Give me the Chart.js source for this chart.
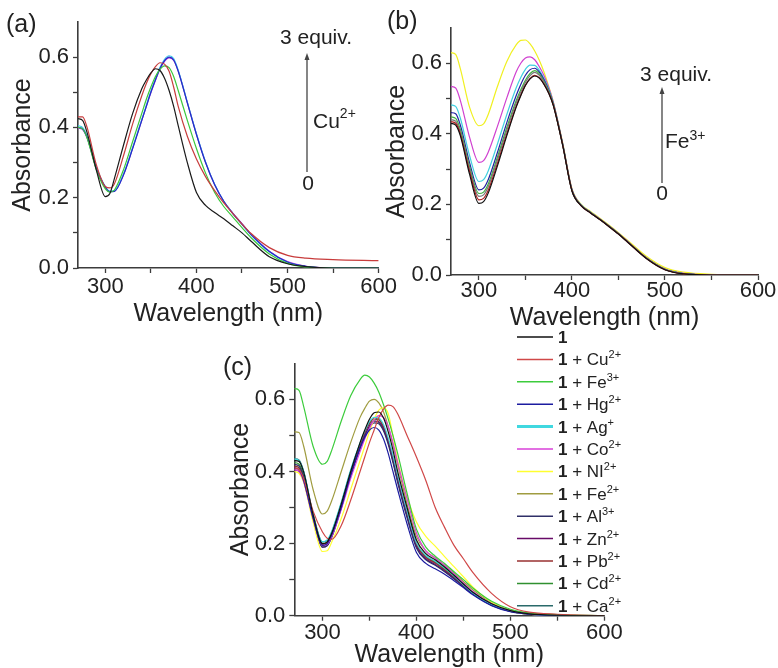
<!DOCTYPE html>
<html>
<head>
<meta charset="utf-8">
<script src="https://cdn.jsdelivr.net/npm/chart.js@4.4.1/dist/chart.umd.min.js"></script>
<style>
  body { margin: 0; background: #fff; }
  #wrap { position: relative; width: 778px; height: 668px; overflow: hidden; }
  canvas { position: absolute; }
</style>
</head>
<body>
<div id="wrap">
  <canvas id="chartA" width="400" height="330" style="left:0;top:0"></canvas>
  <canvas id="chartB" width="398" height="340" style="left:380px;top:0"></canvas>
  <canvas id="chartC" width="430" height="348" style="left:200px;top:320px"></canvas>
</div>
<script>
// wavelength grid shared by every spectrum (nm)
const wavelengths = [270, 275, 280, 290, 300, 305, 310, 320, 330, 340, 345, 350, 355, 360, 365, 370, 375, 380, 390, 400, 410, 420, 430, 440, 450, 460, 480, 500, 520, 550, 600];

const xTicks = [300, 350, 400, 450, 500, 550, 600];
const xLabels = ['300', '', '400', '', '500', '', '600'];
const yTicks = [0, 0.1, 0.2, 0.3, 0.4, 0.5, 0.6];
const yLabels = ['0.0', '', '0.2', '', '0.4', '', '0.6'];

// (a) titration with Cu2+ (0 -> 3 equiv.)
const cuColors = ['#1a1a1a', '#c83c3c', '#3cc83c', '#2828c8', '#40c8e8', '#b040d8'];
const cu0 = [0.425, 0.42, 0.385, 0.28, 0.203, 0.212, 0.255, 0.35, 0.44, 0.51, 0.535, 0.555, 0.567, 0.562, 0.54, 0.505, 0.46, 0.405, 0.30, 0.215, 0.178, 0.158, 0.14, 0.12, 0.10, 0.076, 0.032, 0.012, 0.004, 0.0, 0.0];
const cu1 = [0.43, 0.43, 0.40, 0.295, 0.232, 0.228, 0.24, 0.32, 0.41, 0.49, 0.525, 0.553, 0.573, 0.584, 0.58, 0.56, 0.515, 0.46, 0.375, 0.31, 0.26, 0.22, 0.185, 0.155, 0.125, 0.098, 0.058, 0.036, 0.028, 0.024, 0.021];
const cu2 = [0.40, 0.396, 0.37, 0.28, 0.225, 0.216, 0.222, 0.28, 0.36, 0.44, 0.48, 0.515, 0.545, 0.565, 0.575, 0.57, 0.545, 0.505, 0.42, 0.34, 0.27, 0.215, 0.175, 0.145, 0.115, 0.086, 0.04, 0.013, 0.003, 0.0, 0.0];
const cu3 = [0.40, 0.396, 0.372, 0.285, 0.23, 0.217, 0.218, 0.265, 0.34, 0.42, 0.46, 0.50, 0.535, 0.568, 0.59, 0.60, 0.592, 0.56, 0.47, 0.38, 0.30, 0.237, 0.19, 0.155, 0.125, 0.095, 0.047, 0.017, 0.005, 0.0, 0.0];
const cu4 = [0.405, 0.40, 0.375, 0.288, 0.232, 0.219, 0.22, 0.268, 0.343, 0.423, 0.463, 0.503, 0.538, 0.571, 0.594, 0.604, 0.596, 0.563, 0.472, 0.382, 0.302, 0.238, 0.19, 0.155, 0.124, 0.094, 0.046, 0.016, 0.004, 0.0, 0.0];
const cu5 = [0.398, 0.394, 0.37, 0.284, 0.229, 0.217, 0.219, 0.266, 0.341, 0.42, 0.46, 0.499, 0.534, 0.566, 0.588, 0.598, 0.591, 0.561, 0.471, 0.381, 0.301, 0.237, 0.19, 0.156, 0.126, 0.096, 0.048, 0.018, 0.005, 0.001, 0.0];

// (b) titration with Fe3+ (0 -> 3 equiv.)
const feColors = ['#111111', '#b02020', '#777777', '#40b040', '#2020a0', '#40d0e0', '#d040d0', '#f0f020'];
const fe0 = [0.43, 0.425, 0.395, 0.285, 0.203, 0.208, 0.232, 0.31, 0.395, 0.475, 0.508, 0.537, 0.556, 0.564, 0.558, 0.54, 0.515, 0.48, 0.368, 0.238, 0.196, 0.176, 0.157, 0.137, 0.116, 0.093, 0.047, 0.015, 0.003, 0.0, 0.0];
const fe1 = [0.435, 0.43, 0.40, 0.293, 0.213, 0.217, 0.24, 0.317, 0.40, 0.478, 0.51, 0.538, 0.557, 0.566, 0.559, 0.541, 0.516, 0.481, 0.369, 0.239, 0.196, 0.176, 0.157, 0.137, 0.116, 0.093, 0.047, 0.015, 0.003, 0.0, 0.0];
const fe2 = [0.44, 0.436, 0.405, 0.30, 0.223, 0.227, 0.25, 0.327, 0.41, 0.487, 0.518, 0.546, 0.565, 0.574, 0.566, 0.547, 0.52, 0.483, 0.37, 0.24, 0.197, 0.177, 0.158, 0.138, 0.117, 0.094, 0.048, 0.016, 0.004, 0.0, 0.0];
const fe3 = [0.448, 0.444, 0.413, 0.307, 0.231, 0.235, 0.258, 0.335, 0.418, 0.494, 0.525, 0.552, 0.571, 0.579, 0.57, 0.55, 0.522, 0.484, 0.37, 0.24, 0.197, 0.177, 0.158, 0.138, 0.117, 0.094, 0.048, 0.016, 0.004, 0.0, 0.0];
const fe4 = [0.46, 0.457, 0.425, 0.318, 0.241, 0.246, 0.27, 0.348, 0.432, 0.508, 0.54, 0.566, 0.582, 0.586, 0.575, 0.553, 0.524, 0.485, 0.371, 0.241, 0.197, 0.177, 0.158, 0.138, 0.117, 0.094, 0.048, 0.016, 0.004, 0.0, 0.0];
const fe5 = [0.482, 0.478, 0.445, 0.338, 0.265, 0.27, 0.295, 0.372, 0.455, 0.53, 0.56, 0.583, 0.595, 0.594, 0.58, 0.557, 0.527, 0.487, 0.372, 0.242, 0.198, 0.178, 0.158, 0.138, 0.117, 0.094, 0.048, 0.016, 0.004, 0.0, 0.0];
const fe6 = [0.534, 0.53, 0.495, 0.39, 0.319, 0.324, 0.348, 0.422, 0.502, 0.575, 0.60, 0.615, 0.618, 0.61, 0.59, 0.565, 0.532, 0.49, 0.373, 0.243, 0.198, 0.178, 0.159, 0.139, 0.118, 0.095, 0.049, 0.017, 0.005, 0.001, 0.0];
const fe7 = [0.63, 0.625, 0.585, 0.475, 0.423, 0.428, 0.455, 0.535, 0.605, 0.652, 0.665, 0.666, 0.655, 0.635, 0.608, 0.575, 0.535, 0.49, 0.375, 0.245, 0.2, 0.18, 0.161, 0.141, 0.12, 0.098, 0.053, 0.021, 0.008, 0.002, 0.0];

// (c) compound 1 with different metal ions
const ionNames = ['', 'Cu', 'Fe', 'Hg', 'Ag', 'Co', 'NI', 'Fe', 'Al', 'Zn', 'Pb', 'Cd', 'Ca'];
const ionCharges = ['', '2+', '3+', '2+', '+', '2+', '2+', '2+', '3+', '2+', '2+', '2+', '2+'];
const ionColors = ['#111111', '#d04848', '#3ccc3c', '#1c1ca0', '#40d8e0', '#d840d8', '#ffff30', '#a09c40', '#303068', '#680a68', '#983030', '#309030', '#2a6a6a'];
const ionSpectra = [
  [0.43, 0.428, 0.398, 0.28, 0.20, 0.205, 0.23, 0.31, 0.40, 0.48, 0.515, 0.545, 0.563, 0.565, 0.548, 0.51, 0.46, 0.40, 0.30, 0.21, 0.172, 0.155, 0.135, 0.112, 0.088, 0.065, 0.033, 0.014, 0.005, 0.001, 0.0],
  [0.41, 0.405, 0.38, 0.29, 0.232, 0.215, 0.212, 0.25, 0.32, 0.40, 0.44, 0.48, 0.515, 0.55, 0.573, 0.584, 0.58, 0.56, 0.50, 0.44, 0.375, 0.30, 0.245, 0.195, 0.158, 0.12, 0.062, 0.025, 0.01, 0.004, 0.0],
  [0.63, 0.625, 0.58, 0.47, 0.42, 0.428, 0.46, 0.54, 0.61, 0.655, 0.667, 0.662, 0.645, 0.62, 0.585, 0.545, 0.50, 0.45, 0.34, 0.24, 0.19, 0.165, 0.145, 0.122, 0.10, 0.077, 0.04, 0.018, 0.008, 0.003, 0.0],
  [0.41, 0.405, 0.375, 0.27, 0.195, 0.20, 0.225, 0.30, 0.39, 0.465, 0.495, 0.515, 0.522, 0.515, 0.49, 0.45, 0.40, 0.35, 0.255, 0.175, 0.145, 0.13, 0.115, 0.097, 0.078, 0.058, 0.028, 0.011, 0.004, 0.0, 0.0],
  [0.435, 0.43, 0.40, 0.28, 0.205, 0.21, 0.235, 0.315, 0.405, 0.48, 0.512, 0.538, 0.55, 0.548, 0.53, 0.493, 0.445, 0.39, 0.29, 0.202, 0.167, 0.151, 0.132, 0.11, 0.086, 0.063, 0.031, 0.013, 0.004, 0.0, 0.0],
  [0.405, 0.40, 0.372, 0.27, 0.195, 0.198, 0.22, 0.295, 0.38, 0.455, 0.49, 0.52, 0.543, 0.555, 0.55, 0.525, 0.48, 0.425, 0.325, 0.23, 0.18, 0.16, 0.14, 0.116, 0.091, 0.067, 0.033, 0.013, 0.004, 0.0, 0.0],
  [0.40, 0.395, 0.37, 0.26, 0.178, 0.18, 0.205, 0.27, 0.35, 0.43, 0.47, 0.51, 0.545, 0.57, 0.577, 0.56, 0.50, 0.43, 0.33, 0.26, 0.22, 0.193, 0.164, 0.136, 0.108, 0.08, 0.037, 0.013, 0.004, 0.0, 0.0],
  [0.51, 0.508, 0.47, 0.35, 0.282, 0.29, 0.32, 0.40, 0.48, 0.55, 0.575, 0.595, 0.60, 0.59, 0.565, 0.525, 0.475, 0.42, 0.31, 0.22, 0.18, 0.16, 0.14, 0.118, 0.095, 0.072, 0.036, 0.015, 0.005, 0.001, 0.0],
  [0.42, 0.415, 0.385, 0.272, 0.19, 0.194, 0.218, 0.298, 0.388, 0.465, 0.498, 0.522, 0.535, 0.532, 0.512, 0.475, 0.425, 0.37, 0.272, 0.188, 0.155, 0.14, 0.122, 0.102, 0.08, 0.06, 0.029, 0.012, 0.004, 0.0, 0.0],
  [0.405, 0.40, 0.373, 0.268, 0.19, 0.195, 0.22, 0.30, 0.39, 0.467, 0.50, 0.526, 0.54, 0.538, 0.518, 0.48, 0.43, 0.375, 0.277, 0.192, 0.158, 0.142, 0.124, 0.104, 0.082, 0.061, 0.03, 0.012, 0.004, 0.0, 0.0],
  [0.415, 0.41, 0.382, 0.275, 0.198, 0.202, 0.227, 0.307, 0.397, 0.474, 0.507, 0.533, 0.547, 0.545, 0.525, 0.487, 0.437, 0.381, 0.283, 0.197, 0.162, 0.146, 0.127, 0.106, 0.084, 0.062, 0.031, 0.013, 0.005, 0.001, 0.0],
  [0.425, 0.42, 0.39, 0.278, 0.20, 0.204, 0.229, 0.309, 0.399, 0.476, 0.509, 0.535, 0.545, 0.543, 0.524, 0.487, 0.438, 0.383, 0.286, 0.20, 0.165, 0.15, 0.131, 0.109, 0.086, 0.064, 0.032, 0.014, 0.006, 0.002, 0.0],
  [0.435, 0.432, 0.40, 0.283, 0.205, 0.209, 0.233, 0.312, 0.401, 0.477, 0.509, 0.533, 0.54, 0.536, 0.516, 0.48, 0.432, 0.378, 0.282, 0.198, 0.163, 0.148, 0.129, 0.107, 0.085, 0.063, 0.031, 0.013, 0.005, 0.001, 0.0]
];

const FONT = '"Liberation Sans", Arial, Helvetica, sans-serif';
const INK = '#222222';
const AXIS = '#3c3c3c';

Chart.defaults.font.family = FONT;
Chart.defaults.color = INK;

function series(values, color, label, width) {
  return {
    label: label,
    data: values.map((v, i) => ({ x: wavelengths[i], y: v })),
    borderColor: color,
    borderWidth: width || 1.2,
    pointRadius: 0,
    fill: false,
    cubicInterpolationMode: 'monotone'
  };
}

function text(ctx, str, x, y, size, opts) {
  opts = opts || {};
  ctx.font = (opts.bold ? 'bold ' : '') + size + 'px ' + FONT;
  ctx.fillStyle = INK;
  ctx.textAlign = opts.align || 'left';
  ctx.textBaseline = opts.base || 'alphabetic';
  ctx.fillText(str, x, y);
  return ctx.measureText(str).width;
}

function ionText(ctx, ion, charge, x, y, size, supSize, rise) {
  const w = text(ctx, ion, x, y, size);
  text(ctx, charge, x + w, y - rise, supSize);
}

function arrow(ctx, x, yTop, yBottom) {
  ctx.strokeStyle = '#444';
  ctx.fillStyle = '#444';
  ctx.lineWidth = 1.3;
  ctx.beginPath();
  ctx.moveTo(x, yBottom);
  ctx.lineTo(x, yTop + 5);
  ctx.stroke();
  ctx.beginPath();
  ctx.moveTo(x, yTop);
  ctx.lineTo(x - 2.5, yTop + 7);
  ctx.lineTo(x + 2.5, yTop + 7);
  ctx.closePath();
  ctx.fill();
}

function notes(draw) {
  return {
    id: 'notes',
    afterDraw(chart) {
      const ctx = chart.ctx;
      ctx.save();
      draw(ctx);
      ctx.restore();
    }
  };
}

// cfg: chart area edges inside the canvas, plus tick/title paddings
function makeChart(id, datasets, cfg, plugin) {
  const canvas = document.getElementById(id);
  return new Chart(canvas, {
    type: 'line',
    data: { datasets: datasets },
    options: {
      responsive: false,
      animation: false,
      events: [],
      layout: { padding: { left: 0, top: cfg.top, right: canvas.width - cfg.right, bottom: 0 } },
      plugins: { legend: { display: false }, tooltip: { enabled: false } },
      scales: {
        x: {
          type: 'linear',
          min: 270,
          max: 600,
          afterBuildTicks: s => { s.ticks = xTicks.map(v => ({ value: v })); },
          afterFit: s => { s.height = canvas.height - cfg.bottom; },
          ticks: {
            autoSkip: false, maxRotation: 0, minRotation: 0,
            padding: cfg.xTickPad,
            font: { size: 22, lineHeight: 1 },
            color: INK,
            callback: (v, i) => xLabels[i]
          },
          grid: { drawOnChartArea: false, tickLength: 5, color: AXIS, tickWidth: 1.3 },
          border: { color: AXIS, width: 1.6 },
          title: {
            display: true, text: 'Wavelength (nm)', color: INK,
            font: { size: 25, lineHeight: 1 },
            padding: { top: 0, bottom: cfg.xTitlePad }
          }
        },
        y: {
          type: 'linear',
          min: 0,
          max: 0.7,
          afterBuildTicks: s => { s.ticks = yTicks.map(v => ({ value: v })); },
          afterFit: s => { s.width = cfg.left; },
          ticks: {
            padding: 4,
            font: { size: 22, lineHeight: 1 },
            color: INK,
            callback: (v, i) => yLabels[i]
          },
          grid: { drawOnChartArea: false, tickLength: 5, color: AXIS, tickWidth: 1.3 },
          border: { color: AXIS, width: 1.6 },
          title: {
            display: true, text: 'Absorbance', color: INK,
            font: { size: 25, lineHeight: 1 },
            padding: { top: cfg.yTitlePad, bottom: 0 }
          }
        }
      }
    },
    plugins: [plugin]
  });
}

// panel (a)
makeChart('chartA',
  [cu0, cu1, cu2, cu3, cu4, cu5].map((s, i) => series(s, cuColors[i], 'Cu ' + i)),
  { left: 78, top: 22, right: 384, bottom: 268, xTickPad: 3, xTitlePad: 3, yTitlePad: 11 },
  notes(ctx => {
    text(ctx, '(a)', 6, 25, 25, { base: 'middle' });
    text(ctx, '3 equiv.', 316, 38, 21, { align: 'center', base: 'middle' });
    arrow(ctx, 307, 53, 172);
    ionText(ctx, 'Cu', '2+', 313, 128, 21, 14, 10);
    text(ctx, '0', 308, 184, 21, { align: 'center', base: 'middle' });
  })
);

// panel (b)
makeChart('chartB',
  [fe0, fe1, fe2, fe3, fe4, fe5, fe6, fe7].map((s, i) => series(s, feColors[i], 'Fe ' + i)),
  { left: 71, top: 28, right: 378, bottom: 275, xTickPad: 0, xTitlePad: 9, yTitlePad: 5 },
  notes(ctx => {
    text(ctx, '(b)', 7, 22, 25, { base: 'middle' });
    text(ctx, '3 equiv.', 296, 75, 21, { align: 'center', base: 'middle' });
    arrow(ctx, 282, 87, 183);
    ionText(ctx, 'Fe', '3+', 285, 148, 21, 14, 8);
    text(ctx, '0', 282, 194, 21, { align: 'center', base: 'middle' });
  })
);

// panel (c)
makeChart('chartC',
  ionSpectra.map((s, i) => series(s, ionColors[i], '1' + (ionNames[i] ? ' + ' + ionNames[i] + ionCharges[i] : ''))),
  { left: 94.3, top: 43.3, right: 404.3, bottom: 295.7, xTickPad: 1, xTitlePad: 0, yTitlePad: 29 },
  notes(ctx => {
    text(ctx, '(c)', 23, 48, 25, { base: 'middle' });
    ionNames.forEach((ion, i) => {
      const y = 17 + 22.4 * i;
      ctx.strokeStyle = ionColors[i];
      ctx.lineWidth = ion === 'Ag' ? 3 : 1.5;
      ctx.beginPath();
      ctx.moveTo(317, y);
      ctx.lineTo(353, y);
      ctx.stroke();
      let x = 358;
      x += text(ctx, '1', x, y + 6, 17, { bold: true });
      if (ion) {
        x += text(ctx, ' + ', x, y + 6, 17);
        ionText(ctx, ion, ionCharges[i], x, y + 6, 17, 11, 7);
      }
    });
  })
);
</script>
</body>
</html>
